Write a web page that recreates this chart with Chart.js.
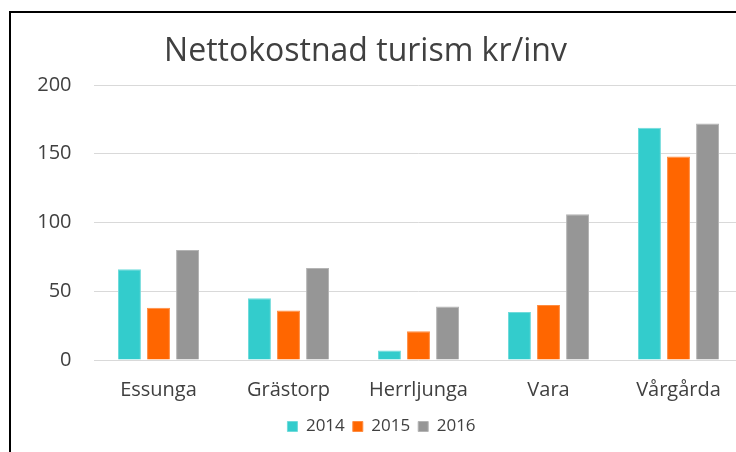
<!DOCTYPE html>
<html>
<head>
<meta charset="utf-8">
<script src="https://cdn.jsdelivr.net/npm/chart.js@4"></script>
<style>
  html, body { margin: 0; padding: 0; background: #ffffff; overflow: hidden; width: 736px; height: 452px; }
  #wrap { position: absolute; left: 0; top: 0; width: 760px; height: 452px; }
  #frame { position: absolute; left: 9px; top: 11px; width: 1000px; height: 1000px; border-left: 2px solid #000; border-top: 2px solid #000; pointer-events: none; }
</style>
</head>
<body>
<div id="wrap"><canvas id="c" width="760" height="452"></canvas></div>
<div id="frame"></div>
<script>
const titleText = "Nettokostnad turism kr/inv";
const categories = ["Essunga", "Grästorp", "Herrljunga", "Vara", "Vårgårda"];
const seriesNames = ["2014", "2015", "2016"];
const values2014 = [66, 45, 7, 35, 169];
const values2015 = [38, 36, 21, 40, 148];
const values2016 = [80, 67, 39, 106, 172];
const yTicks = [0, 50, 100, 150, 200];

const fillColors = ["#33CCCC", "#FF6600", "#969696"];
const edgeColors = ["#70DBDB", "#FF8C40", "#B4B4B4"];
const font = "'Open Sans', 'DejaVu Sans', sans-serif";
const textColor = "#404040";

const titlePlugin = {
  id: 'customTitle',
  afterDraw(chart) {
    const ctx = chart.ctx;
    ctx.save();
    ctx.font = "32px " + font;
    ctx.fillStyle = textColor;
    ctx.textAlign = 'center';
    ctx.textBaseline = 'middle';
    ctx.fillText(titleText, 365.5, 52);
    ctx.restore();
  }
};

const allSeries = [values2014, values2015, values2016];
new Chart(document.getElementById('c'), {
  type: 'bar',
  data: {
    labels: categories,
    datasets: seriesNames.map((n, i) => ({
      label: n,
      data: allSeries[i],
      backgroundColor: fillColors[i],
      borderColor: edgeColors[i],
      borderWidth: 1,
      categoryPercentage: 0.67,
      barPercentage: 0.79
    }))
  },
  options: {
    responsive: false,
    animation: false,
    devicePixelRatio: 1,
    layout: { padding: { left: 19.5, right: 16.5, top: 85, bottom: 7 } },
    plugins: {
      title: { display: false },
      tooltip: { enabled: false },
      legend: {
        position: 'bottom',
        labels: {
          boxWidth: 10, boxHeight: 10, padding: 8,
          color: textColor,
          font: { family: font, size: 17 }
        }
      }
    },
    scales: {
      x: {
        grid: { display: false, drawTicks: false },
        border: { display: false },
        ticks: { color: textColor, font: { family: font, size: 20 }, padding: 18, maxRotation: 0, autoSkip: false },
        afterFit(scale) { scale.height = 50; }
      },
      y: {
        min: 0, max: 200,
        afterBuildTicks(scale) { scale.ticks = yTicks.map(v => ({ value: v })); },
        grid: { color: '#D9D9D9', lineWidth: 1, drawTicks: false },
        border: { display: false },
        ticks: { color: textColor, font: { family: font, size: 20 }, padding: 22 },
        afterFit(scale) { scale.width = 74; }
      }
    }
  },
  plugins: [titlePlugin]
});
</script>
</body>
</html>
